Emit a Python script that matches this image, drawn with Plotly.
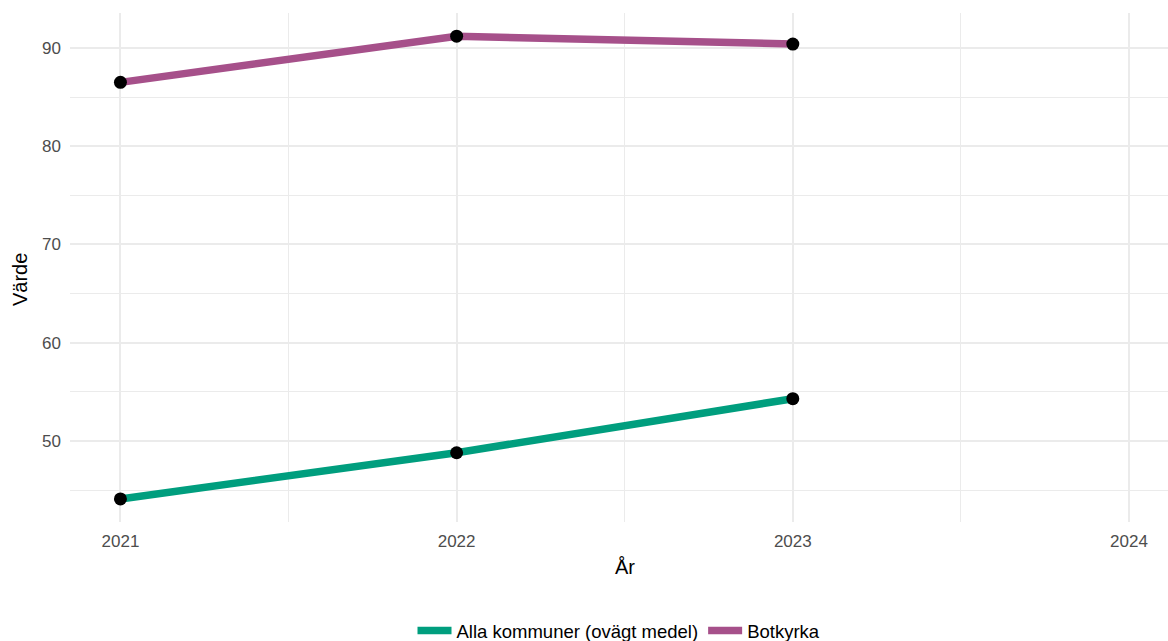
import plotly.graph_objects as go

years = [2021, 2022, 2023]
alla = [44.1, 48.8, 54.3]
botkyrka = [86.5, 91.2, 90.4]
series_names = ["Alla kommuner (ovägt medel)", "Botkyrka"]
colors = ["#009E7E", "#A6508A"]
x_ticks = [2021, 2022, 2023, 2024]
y_ticks = [50, 60, 70, 80, 90]

fig = go.Figure()
for name, vals, col in zip(series_names, [alla, botkyrka], colors):
    fig.add_trace(go.Scatter(x=years, y=vals, mode="lines", name=name,
                             line=dict(color=col, width=7.5), showlegend=True))
for vals in [alla, botkyrka]:
    fig.add_trace(go.Scatter(x=years, y=vals, mode="markers",
                             marker=dict(color="black", size=13),
                             showlegend=False, hoverinfo="skip"))

fig.update_layout(
    width=1168, height=641,
    margin=dict(l=70, r=0, t=13, b=119, autoexpand=False),
    plot_bgcolor="white", paper_bgcolor="white",
    font=dict(family="Liberation Sans, Arial, sans-serif", size=17, color="#4D4D4D"),
    legend=dict(orientation="h", x=0.5, xanchor="center", y=-(631 - 522) / 509, yanchor="middle",
                font=dict(size=18.5, color="black"), itemwidth=34),
    xaxis=dict(range=[2020.85, 2024.116], tickvals=x_ticks, ticktext=[str(t) for t in x_ticks],
               showgrid=True, gridcolor="#EBEBEB", gridwidth=2, automargin=False,
               minor=dict(dtick=0.5, tick0=2020.5, showgrid=True, gridcolor="#EBEBEB", gridwidth=1),
               zeroline=False, showline=False, ticks="", ticklen=0, ticklabelstandoff=7),
    yaxis=dict(range=[41.75, 93.56], tickvals=y_ticks, automargin=False,
               showgrid=True, gridcolor="#EBEBEB", gridwidth=2,
               minor=dict(dtick=5, tick0=45, showgrid=True, gridcolor="#EBEBEB", gridwidth=1),
               zeroline=False, showline=False, ticks="", ticklen=0, ticklabelstandoff=8),
    annotations=[
        dict(text="År", xref="paper", yref="paper", x=(625 - 70) / 1098, y=-(567 - 522) / 509,
             xanchor="center", yanchor="middle", showarrow=False,
             font=dict(size=20, color="black")),
        dict(text="Värde", xref="paper", yref="paper", x=-(70 - 20) / 1098, y=(522 - 280) / 509,
             xanchor="center", yanchor="middle", showarrow=False, textangle=-90,
             font=dict(size=20, color="black")),
    ],
)
fig.write_html("out.html", config={"displayModeBar": False},
               post_script="document.body.style.margin='0px';")
